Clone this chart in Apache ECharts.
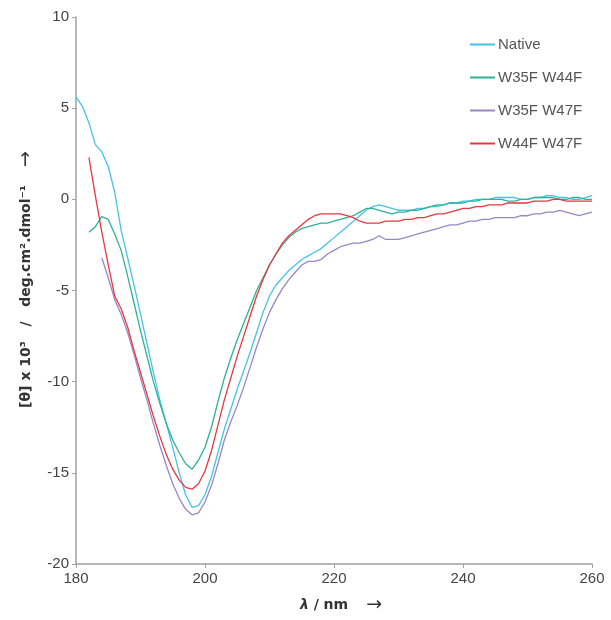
<!DOCTYPE html>
<html>
<head>
<meta charset="utf-8">
<script src="https://cdn.jsdelivr.net/npm/echarts@6/dist/echarts.min.js"></script>
<style>
html,body{margin:0;padding:0;background:#fff;}
#chart{width:611px;height:620px;}
</style>
</head>
<body>
<div id="chart"></div>
<script>
// Wavelengths (nm)
const wavelengths = [180,181,182,183,184,185,186,187,188,189,190,191,192,193,194,195,196,197,198,199,
200,201,202,203,204,205,206,207,208,209,210,211,212,213,214,215,216,217,218,219,
220,221,222,223,224,225,226,227,228,229,230,231,232,233,234,235,236,237,238,239,
240,241,242,243,244,245,246,247,248,249,250,251,252,253,254,255,256,257,258,259,260];

const seriesNames = ['Native','W35F W44F','W35F W47F','W44F W47F'];

const nativeVals = [5.6,5.1,4.2,3.0,2.6,1.8,0.4,-1.7,-3.2,-4.7,-6.3,-7.9,-9.5,-11.0,-12.3,-13.6,-15.0,-16.2,-16.9,-16.8,
-16.2,-15.2,-13.9,-12.6,-11.5,-10.4,-9.4,-8.4,-7.3,-6.2,-5.3,-4.7,-4.3,-3.9,-3.6,-3.3,-3.1,-2.9,-2.7,-2.4,
-2.1,-1.8,-1.5,-1.2,-0.9,-0.6,-0.4,-0.3,-0.4,-0.5,-0.6,-0.6,-0.6,-0.5,-0.5,-0.4,-0.4,-0.3,-0.2,-0.2,
-0.1,-0.1,0.0,0.0,0.0,0.1,0.1,0.1,0.1,0.0,0.0,0.1,0.1,0.2,0.2,0.1,0.1,0.0,0.0,0.1,0.2];

const w35fW44fVals = [null,null,-1.8,-1.5,-0.95,-1.1,-1.9,-2.8,-4.2,-5.7,-7.2,-8.6,-10.0,-11.2,-12.3,-13.2,-13.9,-14.5,-14.8,-14.3,
-13.6,-12.5,-11.1,-9.8,-8.7,-7.7,-6.8,-5.9,-5.0,-4.3,-3.6,-3.0,-2.5,-2.1,-1.8,-1.6,-1.5,-1.4,-1.3,-1.3,
-1.2,-1.1,-1.0,-0.9,-0.7,-0.5,-0.5,-0.6,-0.7,-0.8,-0.7,-0.7,-0.6,-0.6,-0.5,-0.4,-0.3,-0.3,-0.2,-0.2,
-0.2,-0.1,-0.1,0.0,0.0,0.0,0.0,-0.1,-0.1,0.0,0.0,0.1,0.1,0.1,0.1,0.0,0.0,0.1,0.1,0.0,0.0];

const w35fW47fVals = [null,null,null,null,-3.2,-4.3,-5.5,-6.3,-7.3,-8.5,-9.8,-11.0,-12.3,-13.5,-14.6,-15.6,-16.4,-17.0,-17.3,-17.2,
-16.6,-15.7,-14.5,-13.2,-12.2,-11.3,-10.3,-9.2,-8.1,-7.1,-6.2,-5.5,-4.9,-4.4,-4.0,-3.6,-3.4,-3.4,-3.3,-3.0,
-2.8,-2.6,-2.5,-2.4,-2.4,-2.3,-2.2,-2.0,-2.2,-2.2,-2.2,-2.1,-2.0,-1.9,-1.8,-1.7,-1.6,-1.5,-1.4,-1.4,
-1.3,-1.2,-1.2,-1.1,-1.1,-1.0,-1.0,-1.0,-1.0,-0.9,-0.9,-0.8,-0.8,-0.7,-0.7,-0.6,-0.7,-0.8,-0.9,-0.8,-0.7];

const w44fW47fVals = [null,null,2.3,0.2,-1.8,-3.6,-5.3,-6.0,-7.0,-8.3,-9.5,-10.7,-11.9,-13.0,-14.0,-14.8,-15.4,-15.8,-15.9,-15.6,
-14.9,-13.8,-12.4,-11.0,-9.8,-8.6,-7.5,-6.4,-5.3,-4.4,-3.6,-3.0,-2.4,-2.0,-1.7,-1.4,-1.1,-0.9,-0.8,-0.8,
-0.8,-0.8,-0.9,-1.0,-1.2,-1.3,-1.3,-1.3,-1.2,-1.2,-1.2,-1.1,-1.1,-1.0,-1.0,-0.9,-0.8,-0.8,-0.7,-0.6,
-0.5,-0.5,-0.4,-0.4,-0.3,-0.3,-0.3,-0.2,-0.2,-0.2,-0.2,-0.1,-0.1,-0.1,0.0,0.0,-0.1,-0.1,-0.1,-0.1,-0.1];

const colors = ['#45c3e6','#2fb196','#9a86c6','#e5383f'];
const allVals = [nativeVals, w35fW44fVals, w35fW47fVals, w44fW47fVals];

function pairs(vals){
  return wavelengths.map((w,i)=>[w, vals[i]]).filter(p=>p[1]!==null);
}

const chart = echarts.init(document.getElementById('chart'), null, {renderer:'canvas'});
const font = 'Liberation Sans, Arial, sans-serif';
const wide = 'DejaVu Sans, Liberation Sans, sans-serif';
chart.setOption({
  animation:false,
  backgroundColor:'#fff',
  grid:{left:76,right:19,top:17,bottom:50},
  legend:{
    orient:'vertical',
    left:465, top:32,
    itemGap:18,
    itemWidth:25, itemHeight:2,
    icon:'rect',
    textStyle:{fontFamily:font,fontSize:15,color:'#555',padding:[0,0,0,-2]},
    data:seriesNames
  },
  xAxis:{
    type:'value', min:180, max:260, interval:20,
    axisLine:{onZero:false,lineStyle:{color:'#a0a0a0',width:1.5}},
    axisTick:{show:true,length:4,lineStyle:{color:'#a0a0a0'}},
    splitLine:{show:false},
    axisLabel:{fontFamily:font,fontSize:15,color:'#444',margin:7},
    name:'{l|λ}{n| / nm}{a|→}',
    nameLocation:'middle', nameGap:32,
    nameTextStyle:{rich:{
      l:{fontFamily:wide,fontSize:14,fontWeight:'bold',fontStyle:'italic',color:'#333',padding:[0,0,0,14]},
      n:{fontFamily:wide,fontSize:14,fontWeight:'bold',color:'#333'},
      a:{fontFamily:wide,fontSize:19,color:'#333',padding:[0,0,0,18]}
    }}
  },
  yAxis:{
    type:'value', min:-20, max:10, interval:5,
    axisLine:{show:true,onZero:false,lineStyle:{color:'#a0a0a0',width:1.5}},
    axisTick:{show:true,length:4,lineStyle:{color:'#a0a0a0'}},
    splitLine:{show:false},
    axisLabel:{fontFamily:font,fontSize:15,color:'#444',margin:7},
    name:'{t|[θ] x 10³   /   deg.cm².dmol⁻¹}{a|→}',
    nameLocation:'middle', nameGap:40,
    nameTextStyle:{rich:{
      t:{fontFamily:wide,fontSize:14,fontWeight:'bold',color:'#333',padding:[0,0,0,22]},
      a:{fontFamily:wide,fontSize:19,color:'#333',padding:[0,0,0,18]}
    }}
  },
  series: seriesNames.map((n,i)=>({
    name:n, type:'line', data:pairs(allVals[i]),
    showSymbol:false, symbol:'none',
    itemStyle:{color:colors[i]},
    lineStyle:{color:colors[i],width:1.3}
  }))
});
</script>
</body>
</html>
